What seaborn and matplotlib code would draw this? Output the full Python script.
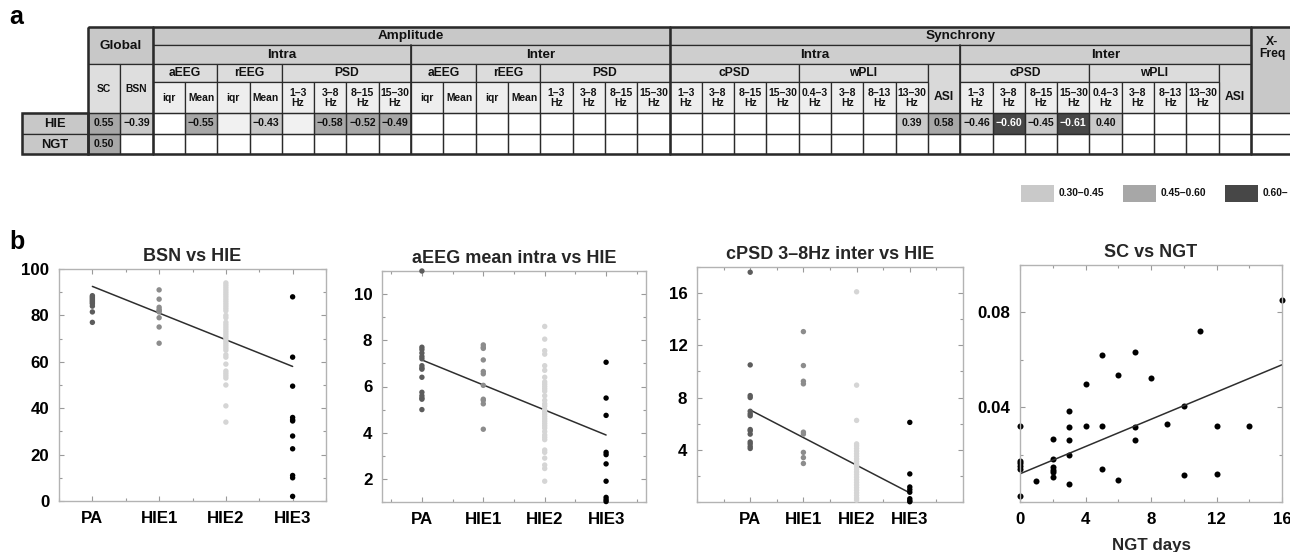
import numpy as np
import pandas as pd
import matplotlib
matplotlib.use("Agg")
import matplotlib.pyplot as plt
from matplotlib.patches import Rectangle
from matplotlib.colors import ListedColormap
from matplotlib.ticker import MultipleLocator
import seaborn as sns

# ------------------------------------------------------------------ data (panel a)
row_labels = ["HIE", "NGT"]
nan = np.nan
hie_values = [0.55, -0.39, nan, -0.55, nan, -0.43, nan, -0.58, -0.52, -0.49,
              nan, nan, nan, nan, nan, nan, nan, nan,
              nan, nan, nan, nan, nan, nan, nan, 0.39, 0.58,
              -0.46, -0.60, -0.45, -0.61, 0.40, nan, nan, nan, nan,
              nan]
hie_shade = [3, 2, 0, 3, 1, 2, 1, 3, 3, 3,
             0, 0, 0, 0, 0, 0, 0, 0,
             0, 0, 0, 0, 0, 0, 0, 2, 3,
             2, 4, 2, 4, 2, 0, 0, 0, 0,
             0]
ngt_values = [0.50] + [nan] * 36
ngt_shade = [3] + [0] * 36

level1 = [("Global", 0, 2), ("Amplitude", 2, 16), ("Synchrony", 18, 18), ("X-\nFreq", 36, 1)]
level2 = [("Intra", 2, 8), ("Inter", 10, 8), ("Intra", 18, 9), ("Inter", 27, 9)]
level3 = [("SC", 0, 1), ("BSN", 1, 1), ("aEEG", 2, 2), ("rEEG", 4, 2), ("PSD", 6, 4),
          ("aEEG", 10, 2), ("rEEG", 12, 2), ("PSD", 14, 4),
          ("cPSD", 18, 4), ("wPLI", 22, 4), ("ASI", 26, 1),
          ("cPSD", 27, 4), ("wPLI", 31, 4), ("ASI", 35, 1)]
level4_amp = ["iqr", "Mean", "iqr", "Mean", "1–3\nHz", "3–8\nHz", "8–15\nHz", "15–30\nHz"]
level4_syn = ["1–3\nHz", "3–8\nHz", "8–15\nHz", "15–30\nHz", "0.4–3\nHz", "3–8\nHz", "8–13\nHz", "13–30\nHz"]

legend_labels = ["0.30–0.45", "0.45–0.60", "0.60–"]
shade_colors = ["#ffffff", "#f1f1f1", "#c9c9c9", "#a7a7a7", "#474747"]

# ------------------------------------------------------------------ data (panel b)
groups = ["PA", "HIE1", "HIE2", "HIE3"]
group_colors = ["#5c5c5c", "#8c8c8c", "#d5d5d5", "#000000"]

bsn_pa = [88.5, 88, 87.5, 87, 86.5, 86, 85.5, 85, 84, 81.5, 77]
bsn_hie1 = [91, 87, 83.5, 82.5, 82, 81.5, 79, 75, 68]
bsn_hie2 = [94, 93, 92, 91, 90, 89, 88, 87, 86, 85, 84, 83, 82, 80, 79, 77, 76, 75, 74,
            73, 72, 71, 70, 69, 68, 67, 66, 65, 63, 62, 59, 56, 55, 54, 53, 50, 41, 34]
bsn_hie3 = [88, 62, 49.5, 36, 35, 34.5, 28, 22.5, 11, 10, 2]
bsn_fit = [92.5, 58]

aeeg_pa = [11.0, 7.7, 7.6, 7.45, 7.3, 7.2, 6.9, 6.8, 6.75, 6.4, 5.75, 5.6, 5.5, 5.45, 5.0]
aeeg_hie1 = [7.8, 7.7, 7.65, 7.15, 6.65, 6.55, 6.05, 5.45, 5.4, 5.25, 4.15]
aeeg_hie2 = [8.6, 8.05, 7.55, 7.4, 6.9, 6.7, 6.4, 6.2, 6.1, 6.0, 5.9, 5.8, 5.6, 5.4, 5.25,
             5.15, 5.0, 4.9, 4.8, 4.7, 4.6, 4.5, 4.4, 4.3, 4.2, 4.05, 3.9, 3.8, 3.7, 3.25,
             3.15, 2.9, 2.6, 2.45, 1.9]
aeeg_hie3 = [7.05, 5.5, 4.75, 3.15, 3.05, 2.65, 1.9, 1.2, 1.1, 1.02]
aeeg_fit = [7.15, 3.9]

cpsd_pa = [17.6, 10.5, 8.15, 8.0, 6.95, 6.75, 6.6, 5.55, 5.45, 5.2, 4.6, 4.45, 4.25, 4.1]
cpsd_hie1 = [13.05, 10.45, 9.25, 9.05, 5.35, 5.2, 3.8, 3.4, 2.95]
cpsd_hie2 = [16.1, 8.95, 6.25, 4.45, 4.3, 4.1, 3.9, 3.7, 3.5, 3.3, 3.1, 2.9, 2.7, 2.5, 2.3,
             2.1, 1.9, 1.7, 1.5, 1.3, 1.1, 0.9, 0.7, 0.5, 0.3, 0.15]
cpsd_hie3 = [6.1, 2.15, 1.15, 0.95, 0.75, 0.25, 0.1, 0.02]
cpsd_fit = [7.05, 0.7]

ngt_days = [0, 0, 0, 0, 0, 0, 1, 2, 2, 2, 2, 2, 2, 3, 3, 3, 3, 3, 4, 4, 5, 5, 5,
            6, 6, 7, 7, 7, 8, 9, 10, 10, 11, 12, 12, 14, 16]
sc_values = [0.0321, 0.0174, 0.0164, 0.0150, 0.0139, 0.0026, 0.0090, 0.0267, 0.0183,
             0.0146, 0.0136, 0.0126, 0.0104, 0.0386, 0.0317, 0.0261, 0.0200, 0.0077,
             0.0500, 0.0321, 0.0621, 0.0321, 0.0140, 0.0536, 0.0093, 0.0631, 0.0317,
             0.0260, 0.0524, 0.0331, 0.0404, 0.0114, 0.0720, 0.0319, 0.0117, 0.0321,
             0.0853]
sc_fit_x = [0, 16]
sc_fit = [0.0119, 0.0579]

# ------------------------------------------------------------------ setup
sns.set_theme(style="white")
plt.rcParams['font.family'] = ['Liberation Sans', 'DejaVu Sans']
plt.rcParams['font.weight'] = 'bold'

W, H = 1290, 552
fig = plt.figure(figsize=(W / 100, H / 100), dpi=100)


def add_ax(x0, y0, x1, y1):
    return fig.add_axes([x0 / W, 1 - y1 / H, (x1 - x0) / W, (y1 - y0) / H])


# ------------------------------------------------------------------ table (panel a)
TX0, TX_SYN_END, TX_END = 88, 1251, 1293
cw = (TX_SYN_END - TX0) / 36
ye = [27, 45, 64, 82, 113, 134, 154]
ncol = len(hie_values)


def xe(c):
    return TX0 + c * cw if c <= 36 else TX_END


shade_df = pd.DataFrame([hie_shade, ngt_shade], index=row_labels, dtype=float)


def fmt(v):
    if np.isnan(v):
        return ""
    return ("−%.2f" % abs(v)) if v < 0 else "%.2f" % v


annot = np.array([[fmt(v) for v in hie_values], [fmt(v) for v in ngt_values]])

hax = add_ax(TX0, ye[4], TX_END, ye[6])
sns.heatmap(shade_df, ax=hax, cmap=ListedColormap(shade_colors), vmin=-0.5, vmax=4.5,
            annot=annot, fmt="", cbar=False, xticklabels=False, yticklabels=False,
            linewidths=0, annot_kws=dict(size=7.6, weight="bold"))
hax.set_xlim(0, (TX_END - TX0) / cw)
hax.set_ylim(2, 0)
hax.set_xlabel("")
hax.set_ylabel("")
shade_arr = shade_df.values
for t in hax.texts:
    x, y = t.get_position()
    r, c = int(y), int(x)
    t.set_color("white" if shade_arr[r, c] >= 4 else "#111111")

ov = fig.add_axes([0, 0, 1, 1])
ov.set_xlim(0, W)
ov.set_ylim(H, 0)
ov.axis("off")
ov.patch.set_alpha(0)
ov.set_zorder(10)

EC = "#2a2a2a"


def cell(c0, n, r0, r1, text, fc, size, ty=None):
    x0, x1 = xe(c0), xe(c0 + n)
    y0, y1 = ye[r0], ye[r1]
    ov.add_patch(Rectangle((x0, y0), x1 - x0, y1 - y0, facecolor=fc, edgecolor=EC, lw=0.9))
    yy = (y0 + y1) / 2 + 0.5 if ty is None else ty
    ov.text((x0 + x1) / 2, yy, text, ha="center", va="center",
            size=size, weight="bold", linespacing=0.95, color="#111111")


for lab, c0, n in level1:
    if lab == "Global":
        cell(c0, n, 0, 2, lab, "#c8c8c8", 9.7)
    elif lab.startswith("X"):
        cell(c0, n, 0, 4, lab, "#c8c8c8", 8.7, ty=48)
    else:
        cell(c0, n, 0, 1, lab, "#c8c8c8", 9.7)
for lab, c0, n in level2:
    cell(c0, n, 1, 2, lab, "#cecece", 9.7)
for lab, c0, n in level3:
    if lab in ("SC", "BSN"):
        cell(c0, n, 2, 4, lab, "#dedede", 7.4)
    elif lab == "ASI":
        cell(c0, n, 2, 4, lab, "#d9d9d9", 8.7, ty=97)
    else:
        cell(c0, n, 2, 3, lab, "#dcdcdc", 8.7)
for start, labels in ((2, level4_amp), (10, level4_amp), (18, level4_syn), (27, level4_syn)):
    for i, lab in enumerate(labels):
        cell(start + i, 1, 3, 4, lab, "#eeeeee", 7.5 if "Hz" in lab else 7.4)

# data-cell borders
for r in range(2):
    for c in range(ncol):
        ov.add_patch(Rectangle((xe(c), ye[4 + r]), xe(c + 1) - xe(c), ye[5 + r] - ye[4 + r],
                               facecolor="none", edgecolor=EC, lw=0.9))

# row labels
for r, lab in enumerate(row_labels):
    ov.add_patch(Rectangle((22, ye[4 + r]), TX0 - 22, ye[5 + r] - ye[4 + r],
                           facecolor="#c8c8c8", edgecolor=EC, lw=0.9))
    ov.text((22 + TX0) / 2, (ye[4 + r] + ye[5 + r]) / 2 + 0.5, lab, ha="center", va="center",
            size=9.3, weight="bold", color="#111111")
ov.add_patch(Rectangle((22, ye[4]), TX0 - 22, ye[6] - ye[4], facecolor="none", edgecolor=EC, lw=1.8))

# thick separators
ov.add_patch(Rectangle((TX0, ye[0]), TX_END - TX0, ye[6] - ye[0], facecolor="none", edgecolor=EC, lw=1.8))
for c in (2, 18, 36):
    ov.plot([xe(c), xe(c)], [ye[0], ye[6]], color=EC, lw=1.8)
for c in (10, 27):
    ov.plot([xe(c), xe(c)], [ye[1], ye[6]], color=EC, lw=1.2)

# legend
for i, lab in enumerate(legend_labels):
    lx = 1021 + i * 102
    ov.add_patch(Rectangle((lx, 185), 33, 17, facecolor=shade_colors[2 + i], edgecolor="none"))
    ov.text(lx + 38, 193.5, lab, ha="left", va="center", size=7.4, weight="bold", color="#111111")

# panel labels
ov.text(9, 24, "a", size=18, weight="bold", va="baseline", color="black")
ov.text(9, 249, "b", size=18, weight="bold", va="baseline", color="black")


# ------------------------------------------------------------------ panel b
def style(ax):
    for s in ax.spines.values():
        s.set_visible(True)
        s.set_color("#b3b3b3")
        s.set_linewidth(1.0)
    ax.tick_params(which="both", direction="in", bottom=True, left=True, top=True, right=True,
                   color="#9a9a9a", width=0.8, labelsize=12.2, labelcolor="black")
    ax.tick_params(which="major", length=3.5, pad=7)
    ax.tick_params(which="minor", length=2.5)
    for lab in ax.get_xticklabels() + ax.get_yticklabels():
        lab.set_fontweight("bold")
    for coll in ax.collections:
        coll.set_clip_on(False)
    ax.set_xlabel("")
    ax.set_ylabel("")


def strip_panel(box, series, fit, title, xlim, ylim, yticks, yminor):
    ax = add_ax(*box)
    df = pd.concat([pd.DataFrame({"group": g, "value": v}) for g, v in zip(groups, series)],
                   ignore_index=True)
    sns.stripplot(data=df, x="group", y="value", hue="group", order=groups, hue_order=groups,
                  palette=group_colors, jitter=False, size=3.9, linewidth=0, legend=False, ax=ax)
    sns.lineplot(x=[0, len(groups) - 1], y=fit, ax=ax, color="#2e2e2e", lw=1.1)
    ax.set_xlim(*xlim)
    ax.set_ylim(*ylim)
    ax.set_yticks(yticks)
    ax.yaxis.set_minor_locator(MultipleLocator(yminor))
    ax.xaxis.set_minor_locator(MultipleLocator(0.5))
    ax.set_title(title, size=13, weight="bold", pad=6)
    style(ax)
    return ax


strip_panel((59, 269, 326, 501), [bsn_pa, bsn_hie1, bsn_hie2, bsn_hie3], bsn_fit,
            "BSN vs HIE", (-0.5, 3.5), (0, 100), [0, 20, 40, 60, 80, 100], 10)
strip_panel((382, 271, 646, 502), [aeeg_pa, aeeg_hie1, aeeg_hie2, aeeg_hie3], aeeg_fit,
            "aEEG mean intra vs HIE", (-0.65, 3.65), (1, 11), [2, 4, 6, 8, 10], 1)
strip_panel((697, 267, 963, 502), [cpsd_pa, cpsd_hie1, cpsd_hie2, cpsd_hie3], cpsd_fit,
            "cPSD 3–8Hz inter vs HIE", (-1, 4), (0, 18), [4, 8, 12, 16], 2)

ax4 = add_ax(1020, 265, 1282, 502)
sns.scatterplot(x=ngt_days, y=sc_values, ax=ax4, color="black", s=19, linewidth=0)
sns.lineplot(x=sc_fit_x, y=sc_fit, ax=ax4, color="#2e2e2e", lw=1.1)
ax4.set_xlim(0, 16)
ax4.set_ylim(0, 0.1)
ax4.set_xticks([0, 4, 8, 12, 16])
ax4.set_yticks([0.04, 0.08])
ax4.set_yticklabels(["0.04", "0.08"])
ax4.xaxis.set_minor_locator(MultipleLocator(2))
ax4.yaxis.set_minor_locator(MultipleLocator(0.02))
ax4.set_title("SC vs NGT", size=13, weight="bold", pad=6)
style(ax4)
ax4.set_xlabel("NGT days", size=12.2, weight="bold", labelpad=8)

fig.savefig("out.png", dpi=100)
